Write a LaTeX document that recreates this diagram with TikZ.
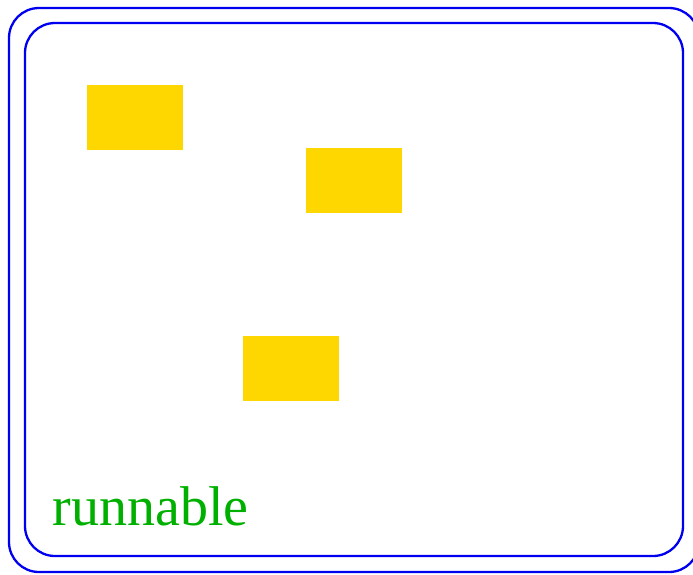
\documentclass[tikz,border=0pt]{standalone}
\usepackage{fontspec}
\setmainfont{Liberation Serif}
\usetikzlibrary{positioning}
\definecolor{frameblue}{HTML}{0000F0}
\definecolor{blockgold}{HTML}{FFD700}
\definecolor{labelgreen}{HTML}{00B000}

\begin{document}
\begin{tikzpicture}[x=1pt, y=-1pt,
    frame/.style={draw=frameblue, line width=2.3pt, rounded corners=30pt},
    block/.style={fill=blockgold, inner sep=0pt, minimum width=96pt, minimum height=65pt, anchor=north west}]
      \useasboundingbox (0,0) rectangle (693,574);

      % two nested frames
      \draw[frame] (9,8) rectangle (699,572);
      \draw[frame] (25,23) rectangle (683,556);

      \node[block] (blockA) at (87,85) {};
      \node[block] (blockB) at (306,148) {};
      \node[block] (blockC) at (243,336) {};

      \node[text=labelgreen, inner sep=0pt, anchor=base west,
        font=\fontsize{56}{60}\selectfont] (runlabel) at (52.5,525) {runnable};
    \end{tikzpicture}
\end{document}
